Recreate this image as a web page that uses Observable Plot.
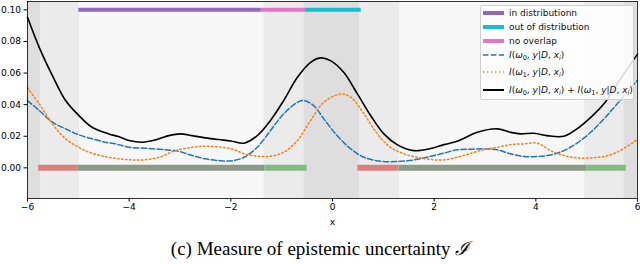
<!DOCTYPE html>
<html>
<head>
<meta charset="utf-8">
<script src="https://cdn.jsdelivr.net/npm/d3@7"></script>
<script src="https://cdn.jsdelivr.net/npm/@observablehq/plot@0.6"></script>
<style>
  html, body { margin: 0; padding: 0; background: #fff; }
  #wrap { position: relative; width: 640px; height: 264px; overflow: hidden; font-family: "DejaVu Sans", sans-serif; }
  #legend { position: absolute; left: 480px; top: 5px; width: 152px; height: 93px; background: rgba(255,255,255,0.85); border: 1px solid #d0d0d0; border-radius: 3px; font-size: 9px; color: #111; }
  .row { position: absolute; left: 0; height: 14px; line-height: 14px; white-space: nowrap; }
  .row svg { position: absolute; left: 1px; top: 2px; }
  .row span { position: absolute; left: 28px; top: 0; }
  .row i { font-style: italic; }
  .row sub { font-size: 6.5px; vertical-align: -2px; line-height: 0; }
  #caption { position: absolute; left: 0; width: 640px; top: 238px; text-align: center; font-family: "Liberation Serif", "Times New Roman", serif; font-size: 19px; line-height: 20px; color: #000; }
</style>
</head>
<body>
<div id="wrap">
  <div id="chart"></div>
  <div id="legend"></div>
  <div id="caption">(c) Measure of epistemic uncertainty <span style="font-family:'DejaVu Serif',serif;font-style:italic">ℐ</span></div>
</div>
<script>
// ---- data ----
const bandStart = [-6, -5.74, -4.97, -1.35, -0.565, 0.53, 1.32, 4.96, 5.73];
const bandEnd   = [-5.74, -4.97, -1.35, -0.565, 0.53, 1.32, 4.96, 5.73, 6];
const bandShade = ["#dedede", "#ebebeb", "#f7f7f7", "#ebebeb", "#dedede", "#ebebeb", "#f7f7f7", "#ebebeb", "#dedede"];

const topStart = [-4.99, -1.40, -0.53];
const topEnd   = [-1.40, -0.53, 0.565];
const topColor = ["#9467bd", "#e377c2", "#17becf"];
const topLevel = 0.1;

const botStart = [-5.78, -5.0, -1.33, 0.5, 1.31, 5.0];
const botEnd   = [-5.0, -1.33, -0.5, 1.31, 5.0, 5.78];
const botColor = ["#d97f7c", "#8b9a89", "#80bb80", "#d97f7c", "#8b9a89", "#80bb80"];
const botLevel = 0;

const blackX = [-6,-5.77,-5.51,-5.25,-4.99,-4.73,-4.40,-4.21,-4.00,-3.74,-3.48,-3.22,-2.99,-2.76,-2.50,-2.24,-2.00,-1.74,-1.48,-1.22,-0.96,-0.69,-0.43,-0.24,-0.04,0.22,0.49,0.75,1.01,1.27,1.60,1.93,2.19,2.45,2.85,3.24,3.50,3.70,3.96,4.22,4.55,4.81,5.08,5.34,5.60,6.00];
const blackY = [0.0953,0.0763,0.0584,0.0426,0.0331,0.0257,0.0215,0.0198,0.0173,0.0162,0.0177,0.0204,0.0215,0.0204,0.0190,0.0179,0.0170,0.0156,0.0204,0.0300,0.0426,0.0573,0.0668,0.0696,0.0679,0.0605,0.0468,0.0331,0.0215,0.0147,0.0109,0.0122,0.0147,0.0168,0.0225,0.0247,0.0225,0.0215,0.0219,0.0204,0.0200,0.0247,0.0320,0.0405,0.0532,0.0720];

const blueX = [-6,-5.77,-5.51,-5.25,-4.99,-4.73,-4.47,-4.27,-4.00,-3.67,-3.28,-3.02,-2.76,-2.50,-2.24,-2.00,-1.74,-1.48,-1.22,-0.96,-0.69,-0.56,-0.37,-0.17,0.09,0.36,0.62,0.95,1.27,1.60,1.93,2.19,2.45,2.72,2.98,3.24,3.50,3.77,4.03,4.29,4.55,4.81,5.08,5.34,5.60,6.00];
const blueY = [0.0426,0.0363,0.0289,0.0247,0.0209,0.0184,0.0162,0.0152,0.0130,0.0124,0.0114,0.0105,0.0078,0.0057,0.0046,0.0044,0.0067,0.0130,0.0236,0.0342,0.0415,0.0426,0.0394,0.0310,0.0204,0.0120,0.0067,0.0042,0.0040,0.0050,0.0073,0.0093,0.0114,0.0118,0.0120,0.0114,0.0089,0.0072,0.0072,0.0082,0.0109,0.0156,0.0225,0.0310,0.0405,0.0555];

const orangeX = [-6,-5.77,-5.51,-5.25,-4.99,-4.73,-4.40,-4.07,-3.74,-3.41,-3.09,-2.76,-2.50,-2.17,-1.96,-1.74,-1.48,-1.22,-0.96,-0.69,-0.43,-0.17,0.16,0.36,0.62,0.88,1.14,1.40,1.67,1.93,2.19,2.45,2.72,2.98,3.24,3.50,3.77,4.03,4.29,4.55,4.81,5.08,5.34,5.60,6.00];
const orangeY = [0.0506,0.0405,0.0278,0.0184,0.0130,0.0092,0.0067,0.0053,0.0050,0.0067,0.0109,0.0130,0.0137,0.0130,0.0118,0.0089,0.0074,0.0074,0.0099,0.0173,0.0300,0.0415,0.0468,0.0447,0.0342,0.0215,0.0130,0.0089,0.0067,0.0053,0.0050,0.0067,0.0092,0.0116,0.0130,0.0147,0.0152,0.0156,0.0109,0.0078,0.0063,0.0063,0.0072,0.0099,0.0180];

const xTicks = [-6, -4, -2, 0, 2, 4, 6];
const yTicks = [0, 0.02, 0.04, 0.06, 0.08, 0.10];

// ---- tables ----
const bands = bandStart.map((s, i) => ({x1: s, x2: bandEnd[i], fill: bandShade[i]}));
const tops = topStart.map((s, i) => ({x1: s, x2: topEnd[i], c: topColor[i], y: topLevel}));
const bots = botStart.map((s, i) => ({x1: s, x2: botEnd[i], c: botColor[i], y: botLevel}));
const black = blackX.map((x, i) => ({x, y: blackY[i]}));
const blue = blueX.map((x, i) => ({x, y: blueY[i]}));
const orange = orangeX.map((x, i) => ({x, y: orangeY[i]}));

const minus = d => (d < 0 ? "\u2212" + Math.abs(d) : String(d));

const chart = Plot.plot({
  width: 640,
  height: 230,
  marginLeft: 27,
  marginRight: 3,
  marginTop: 1,
  marginBottom: 32,
  style: {fontFamily: "DejaVu Sans, sans-serif", fontSize: "9px", color: "#000", background: "transparent"},
  x: {domain: [-6, 6]},
  y: {domain: [-0.0194, 0.1053]},
  marks: [
    Plot.rect(bands, {x1: "x1", x2: "x2", fill: "fill"}),
    Plot.ruleY(bots, {y: "y", x1: "x1", x2: "x2", stroke: "c", strokeWidth: 6}),
    Plot.ruleY(tops, {y: "y", x1: "x1", x2: "x2", stroke: "c", strokeWidth: 4}),
    Plot.line(blue, {x: "x", y: "y", stroke: "#1f77b4", strokeWidth: 1.5, strokeDasharray: "5.5,2.4", curve: "catmull-rom"}),
    Plot.line(orange, {x: "x", y: "y", stroke: "#ff7f0e", strokeWidth: 1.5, strokeDasharray: "1.5,2.5", curve: "catmull-rom"}),
    Plot.line(black, {x: "x", y: "y", stroke: "#000", strokeWidth: 1.6, curve: "catmull-rom"}),
    Plot.frame({stroke: "#000", strokeWidth: 0.8}),
    Plot.axisX({ticks: xTicks, tickFormat: minus, tickSize: 3.5, tickPadding: 2, label: "x", labelAnchor: "center", labelArrow: "none", labelOffset: 26}),
    Plot.axisY({ticks: yTicks, tickFormat: d3.format(".2f"), tickSize: 3.5, tickPadding: 3, label: null})
  ]
});
document.getElementById("chart").appendChild(chart);

// ---- legend ----
const mathI = (w) => `<i>I</i>(<i>ω</i><sub>${w}</sub>, <i>y</i>|<i>D</i>, <i>x<sub>i</sub></i>)`;
const legendItems = [
  {label: "in distributionn", color: "#9467bd", w: 4, dash: null},
  {label: "out of distribution", color: "#17becf", w: 4, dash: null},
  {label: "no overlap", color: "#e377c2", w: 4, dash: null},
  {label: mathI(0), color: "#1f77b4", w: 1.5, dash: "5.5,2.4"},
  {label: mathI(1), color: "#ff7f0e", w: 1.5, dash: "1.5,2.5"},
  {label: mathI(0) + " + " + mathI(1), color: "#000", w: 2, dash: null}
];
const rowCenters = [7.3, 20.7, 34.7, 49, 66, 84.3];
const legend = document.getElementById("legend");
legendItems.forEach((it, i) => {
  const row = document.createElement("div");
  row.className = "row";
  row.style.top = (rowCenters[i] - 7) + "px";
  row.innerHTML = `<svg width="24" height="10"><line x1="1" x2="22" y1="5" y2="5" stroke="${it.color}" stroke-width="${it.w}" ${it.dash ? `stroke-dasharray="${it.dash}"` : ""}/></svg><span>${it.label}</span>`;
  legend.appendChild(row);
});
</script>
</body>
</html>
